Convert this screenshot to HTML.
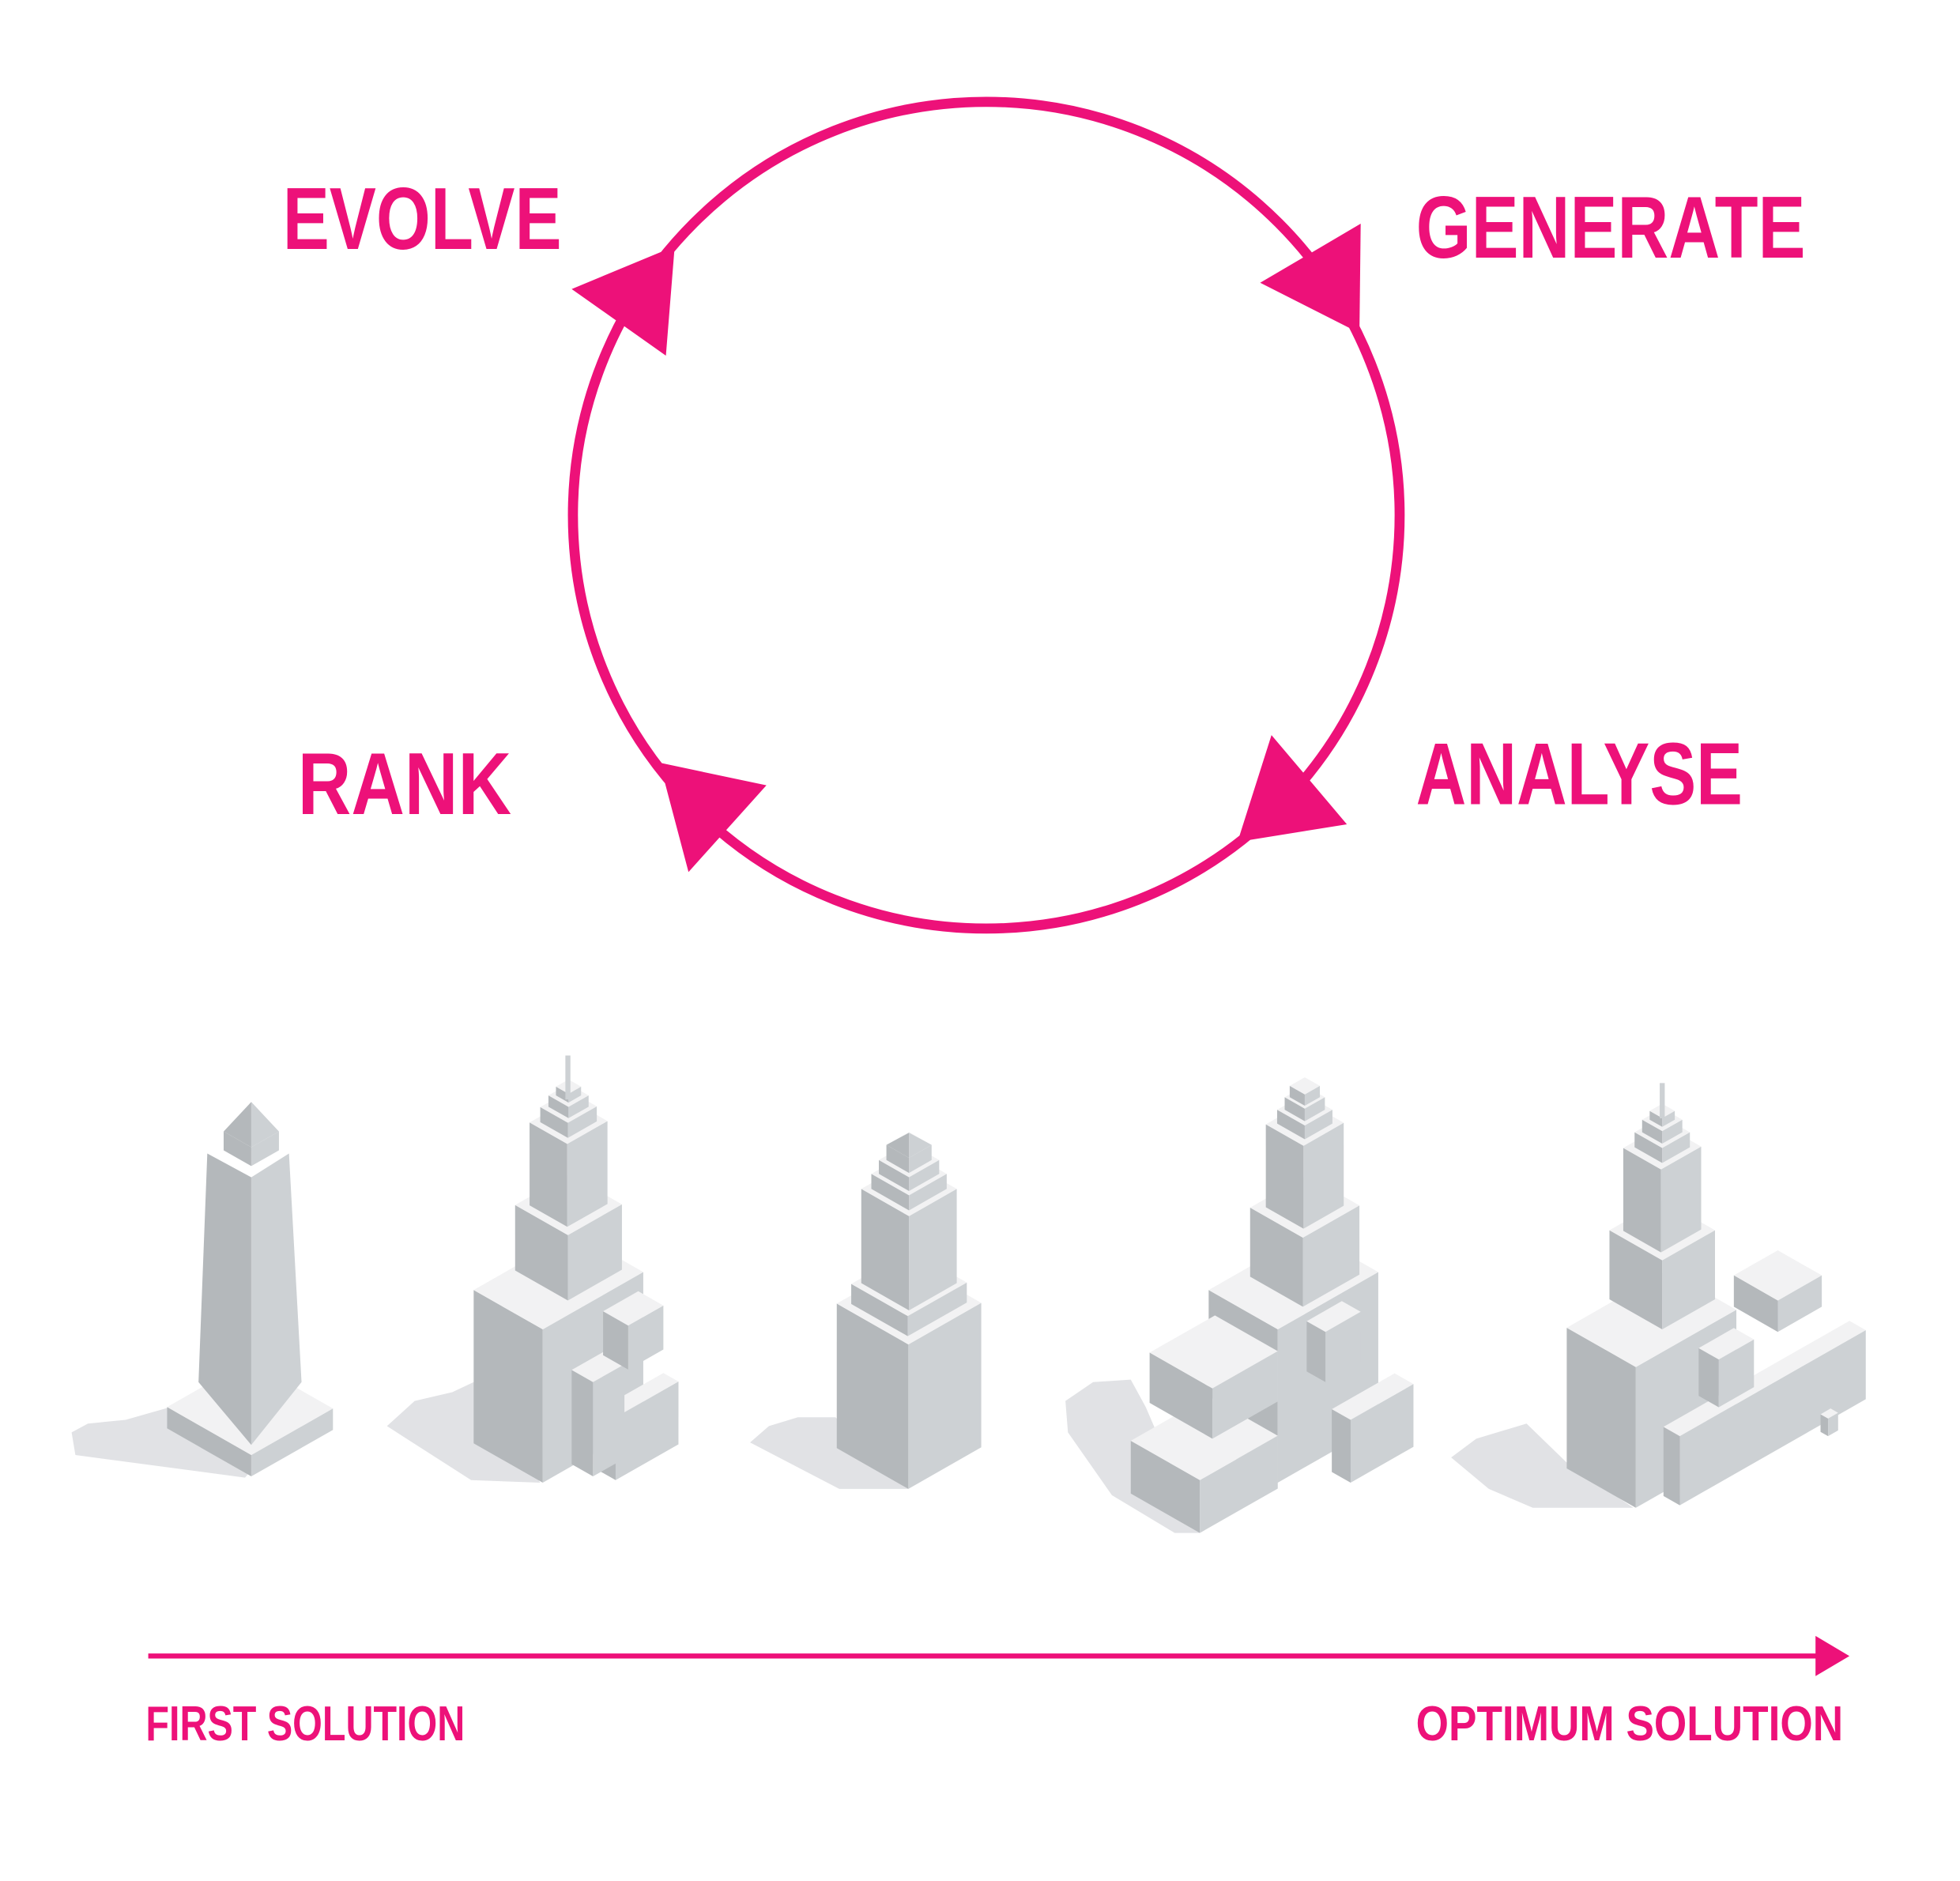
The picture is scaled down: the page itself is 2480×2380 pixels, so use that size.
<!DOCTYPE html>
<html><head><meta charset="utf-8"><style>
html,body{margin:0;padding:0;background:#fff;}
svg{display:block;}
text{font-family:"Liberation Sans",sans-serif;font-weight:bold;fill:#ED1179;}
</style></head><body>
<svg id="s" width="2480" height="2380" viewBox="0 0 1560 1497" xmlns="http://www.w3.org/2000/svg">
<rect width="1560" height="1497" fill="#fff"/>
<circle cx="785" cy="410" r="329" fill="none" stroke="#ED1179" stroke-width="8"/>
<g fill="#ED1179">
<polygon points="455,230 537,196 530,283"/>
<polygon points="1003,225 1083,178 1082,265"/>
<polygon points="1012,585 1072,656 985,670"/>
<polygon points="525,607 610,625 548,694"/>
</g>
<text x="225" y="198" font-size="70" textLength="222" lengthAdjust="spacingAndGlyphs">EVOLVE</text>
<text x="1127" y="205" font-size="70" textLength="310" lengthAdjust="spacingAndGlyphs">GENERATE</text>
<text x="1127" y="640" font-size="70" textLength="260" lengthAdjust="spacingAndGlyphs">ANALYSE</text>
<text x="237" y="648" font-size="70" textLength="170" lengthAdjust="spacingAndGlyphs">RANK</text>
<line x1="118" y1="1318" x2="1448" y2="1318" stroke="#ED1179" stroke-width="4"/>
<polygon points="1445,1302 1472,1318 1445,1334" fill="#ED1179"/>
<text x="116" y="1385" font-size="39" textLength="254" lengthAdjust="spacingAndGlyphs">FIRST SOLUTION</text>
<text x="1127" y="1385" font-size="39" textLength="340" lengthAdjust="spacingAndGlyphs">OPTIMUM SOLUTION</text>
<g fill="#e1e2e5">
<polygon points="57,1140 70,1133 100,1130 135,1120 200,1170 195,1176 60,1158"/>
<polygon points="308,1135 330,1115 360,1108 377,1100 430,1180 375,1178"/>
<polygon points="597,1148 612,1135 635,1128 665,1128 723,1185 668,1185"/>
<polygon points="848,1115 870,1100 900,1098 912,1120 955,1220 935,1220 885,1190 850,1140"/>
<polygon points="1155,1160 1175,1145 1215,1133 1248,1165 1300,1200 1220,1200 1185,1185"/>
</g>
<g id="b"></g>
</svg>
<script>
var g=document.getElementById('b'),k=0.57;
function P(pts,c){var p=document.createElementNS('http://www.w3.org/2000/svg','polygon');p.setAttribute('points',pts.map(function(q){return q[0].toFixed(1)+','+q[1].toFixed(1)}).join(' '));p.setAttribute('fill',c);g.appendChild(p);}
function box(x,y,a,b,h){
P([[x,y],[x-a,y-k*a],[x-a,y-k*a-h],[x,y-h]],'#b4b8bb');
P([[x,y],[x+b,y-k*b],[x+b,y-k*b-h],[x,y-h]],'#cdd1d4');
P([[x,y-h],[x-a,y-k*a-h],[x-a+b,y-k*(a+b)-h],[x+b,y-k*b-h]],'#f2f2f3');}
function pyr(x,y,a,b,t){P([[x,y],[x-a,y-k*a],[x,t]],'#b4b8bb');P([[x,y],[x+b,y-k*b],[x,t]],'#cdd1d4');}
function stack(x,y,L){var A=0,B=0;for(var i=0;i<L.length;i++){var a=L[i][0],b=L[i][1],h=L[i][2];
 if(i>0){var dA=(A-a)/2,dB=(B-b)/2;x+=-dA+dB;y+=-k*(dA+dB);}
 box(x,y,a,b,h);y-=h;A=a;B=b;}return [x,y];}
/* B1 obelisk */
box(200,1175,67,65,17);
P([[200,1150],[158,1100],[165,918],[200,937]],'#b4b8bb');
P([[200,1150],[240,1100],[230,918],[200,937]],'#cdd1d4');
box(200,928,22,22,15);pyr(200,913,22,22,877);
/* B2 */
box(432,1180,55,80,122);
box(490,1178,12,50,50);
box(472,1175,17,25,75);
box(500,1090,20,28,35);
stack(452,1035,[[42,43,52],[30,32,66],[22,23,12],[16,16,9],[10,10,7]]);
P([[450,840],[454,840],[454,875],[450,875]],'#cdd1d4');
/* B3 */
var t=stack(723,1185,[[57,58,115],[45,47,16],[38,38,75],[30,30,12],[24,24,11],[18,18,12]]);
pyr(t[0],t[1],18,18,t[1]-20);
/* B4 */
box(1017,1180,55,80,122);
box(1075,1180,15,50,50);
box(1055,1100,15,28,40);
stack(1037,1040,[[42,45,55],[30,32,66],[22,22,11],[16,16,10],[12,12,9]]);
box(955,1220,55,62,42);
box(965,1145,50,52,40);
/* B5 */
box(1302,1200,55,80,112);
box(1337,1198,13,148,55);
box(1368,1120,16,28,38);
box(1415,1060,35,35,25);
stack(1323,1058,[[42,42,55],[30,32,66],[22,22,12],[16,16,10],[10,10,7]]);
P([[1321,862],[1325,862],[1325,890],[1321,890]],'#cdd1d4');
box(1455,1143,6,8,14);
</script>
</body></html>
